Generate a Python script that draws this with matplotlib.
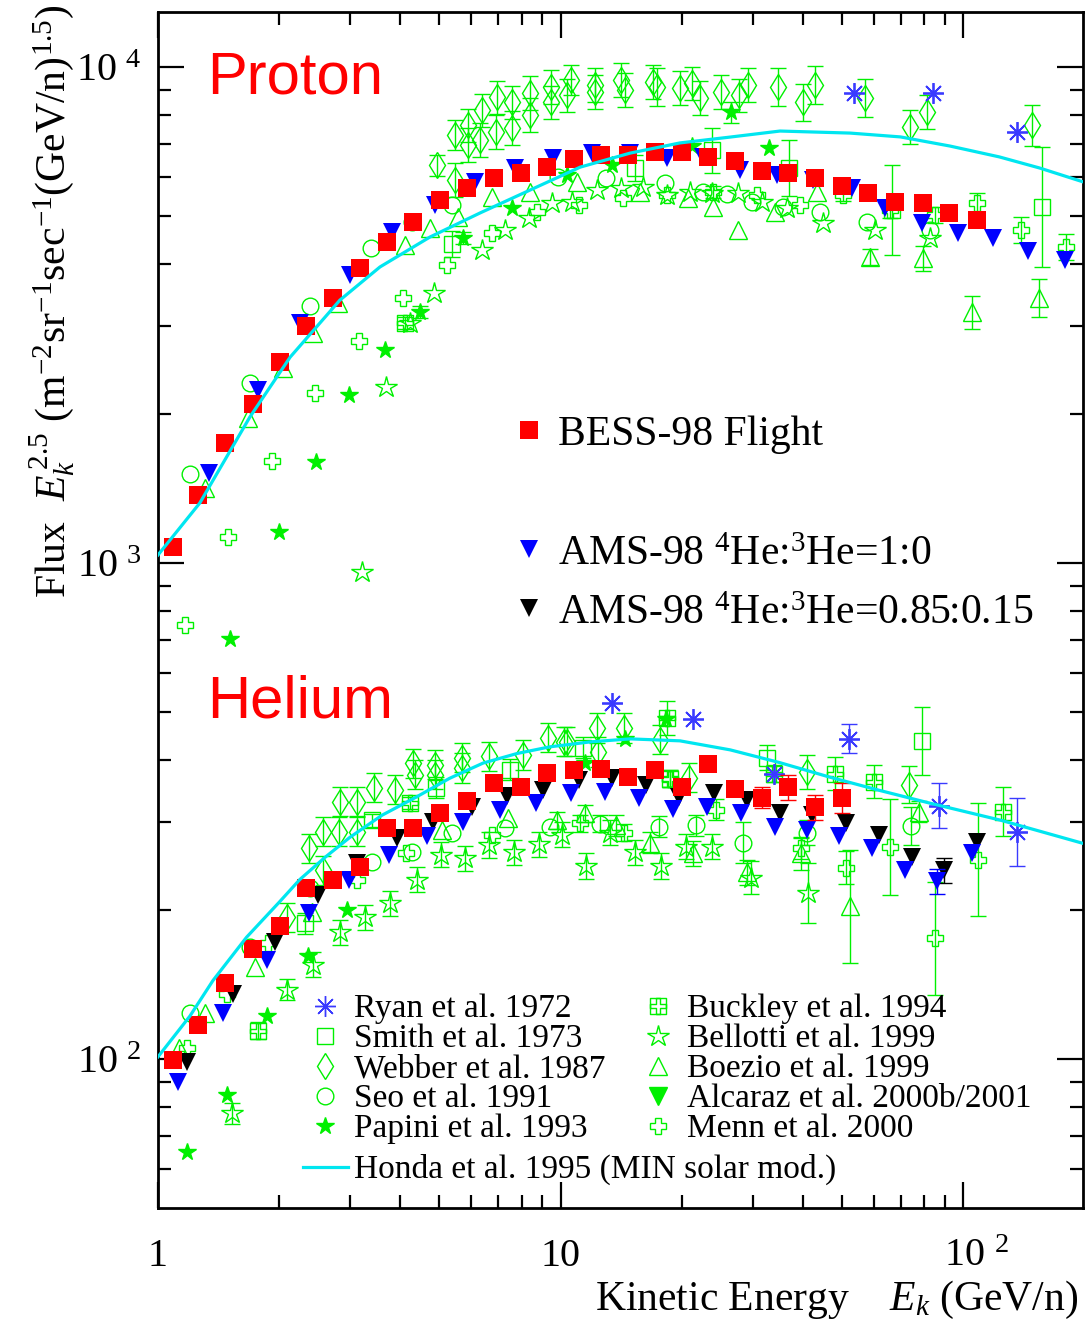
import numpy as np
import matplotlib
matplotlib.use('Agg')
import matplotlib.pyplot as plt
from matplotlib.path import Path
from matplotlib.ticker import FuncFormatter, LogLocator, NullFormatter

plt.rcParams['font.family'] = ['Liberation Serif', 'DejaVu Serif']
plt.rcParams['mathtext.fontset'] = 'custom'
plt.rcParams['mathtext.rm'] = 'Liberation Serif'
plt.rcParams['mathtext.it'] = 'Liberation Serif:italic'
plt.rcParams['mathtext.bf'] = 'Liberation Serif:bold'

# ---------------- proton data (E_k in GeV/n, flux*E^2.5) ----------------
bess_p_E = [1.09, 1.26, 1.47, 1.72, 2.01, 2.33, 2.72, 3.18, 3.71, 4.30, 5.02, 5.86, 6.83, 7.97, 9.26, 10.8,
            12.6, 14.7, 17.2, 20.0, 23.3, 27.1, 31.7, 36.7, 42.9, 50.0, 58.1, 67.8, 79.6, 92.3, 108]
bess_p_F = [1077, 1371, 1745, 2093, 2543, 3006, 3422, 3935, 4438, 4873, 5400, 5707, 5977, 6113, 6285, 6525,
            6649, 6649, 6744, 6744, 6590, 6463, 6166, 6113, 5977, 5755, 5571, 5342, 5317, 5082, 4916]

ams_p_E = [1.34, 1.77, 2.25, 3.00, 3.81, 4.88, 6.13, 7.71, 9.58, 12.0, 14.9, 18.4, 22.6, 27.9, 34.5, 42.4,
           53.0, 64.0, 79.1, 97.2, 119, 145, 179]
ams_p_F = [1517, 2234, 3049, 3811, 4649, 5270, 5866, 6259, 6557, 6710, 6710, 6557, 6590, 6197, 6055, 5918,
           5707, 5198, 4845, 4626, 4521, 4257, 4084]

honda_p_E = [1.0, 1.27, 1.69, 2.13, 2.83, 3.56, 4.74, 6.32, 8.40, 11.2, 14.9, 19.8, 26.4, 35.1, 52.4, 69.9,
             92.8, 123, 155, 199]
honda_p_F = [1038, 1321, 1967, 2601, 3388, 3953, 4543, 5082, 5649, 6285, 6707, 7031, 7225, 7430, 7360, 7230,
             6930, 6590, 6258, 5866]

webber_p_E = [4.93, 5.47, 5.47, 5.89, 5.89, 6.31, 6.38, 6.95, 6.92, 7.58, 7.58, 8.40, 8.40, 9.47, 9.47, 10.4,
              10.6, 12.2, 12.2, 14.1, 14.5, 17.0, 17.4, 19.8, 21.2, 22.2, 25.1, 27.8, 29.2, 34.7, 40.1, 42.9,
              57.1, 73.8, 81.4, 148]
webber_p_F = [6345, 7295, 5919, 7638, 6962, 7126, 8189, 8698, 7396, 8499, 7534, 8863, 8004, 9113, 8499, 8780,
              9415, 9198, 8904, 9415, 8987, 9328, 9113, 9073, 9283, 8660, 8904, 8780, 9198, 9113, 8499, 9198,
              8660, 7568, 8114, 7638]
webber_p_err = [0.05, 0.07, 0.08, 0.08, 0.08, 0.08, 0.08, 0.08, 0.08, 0.08, 0.08, 0.08, 0.08, 0.08, 0.08, 0.08,
                0.07, 0.08, 0.08, 0.08, 0.08, 0.08, 0.09, 0.08, 0.08, 0.08, 0.08, 0.08, 0.08, 0.09, 0.09, 0.09,
                0.09, 0.08, 0.08, 0.10]

ryan_p_E = [53.6, 84.2, 136]
ryan_p_F = [8863, 8863, 7396]

papini_p_E = [1.51, 2.0, 2.47, 2.98, 3.66, 4.48, 5.72, 7.58, 10.4, 13.4, 21.2, 26.5, 33.0]
papini_p_F = [703, 1155, 1598, 2182, 2688, 3206, 4521, 5196, 6058, 6345, 6930, 8114, 6866]
papini_p_err = [0, 0, 0, 0, 0, 0.03, 0.03, 0, 0, 0, 0, 0.05, 0]

menn_p_E = [1.17, 1.49, 1.92, 2.45, 3.16, 4.06, 5.22, 6.76, 8.74, 11.1, 14.3, 18.4, 23.9, 30.8, 39.4, 50.3,
            65.9, 85.2, 108, 139, 180]
menn_p_F = [750, 1128, 1606, 2202, 2803, 3422, 3990, 4627, 5102, 5270, 5444, 5520, 5598, 5520, 5270, 5520,
            5149, 5031, 5318, 4693, 4337]
menn_p_err = [0, 0, 0, 0, 0, 0, 0, 0, 0, 0, 0, 0, 0.03, 0, 0, 0.03, 0.04, 0.04, 0.05, 0.06, 0.06]

bellotti_p_E = [3.21, 3.69, 4.23, 4.85, 6.38, 7.28, 8.35, 9.53, 10.7, 12.3, 14.1, 16.0, 18.4, 21.0, 23.8, 27.6,
                31.7, 36.5, 44.9, 60.4, 82.8]
bellotti_p_F = [959, 2263, 3047, 3503, 4276, 4693, 4962, 5318, 5343, 5649, 5702, 5729, 5520, 5598, 5572, 5572,
                5343, 5196, 4847, 4693, 4521]

boezio_p_E = [1.31, 1.67, 2.04, 2.43, 2.80, 4.11, 4.74, 5.56, 6.76, 8.40, 11.0, 15.8, 20.7, 23.9, 27.6, 34.1,
              43.4, 58.7, 79.6, 105, 154]
boezio_p_F = [1417, 1960, 2473, 2909, 3344, 4377, 4737, 4985, 5470, 5598, 5863, 5598, 5444, 5220, 4693, 5102,
              5598, 4140, 4116, 3206, 3422]
boezio_p_err = [0, 0, 0, 0, 0, 0, 0, 0, 0, 0, 0, 0, 0, 0, 0, 0, 0, 0.04, 0.06, 0.08, 0.09]

seo_p_E = [1.20, 1.69, 2.39, 3.38, 4.28, 5.38, 9.86, 13.0, 18.2, 22.6, 25.9, 29.9, 35.7, 44.1, 57.7, 82.8]
seo_p_F = [1512, 2306, 3297, 4317, 4873, 5270, 6002, 5977, 5836, 5598, 5545, 5343, 5220, 5102, 4873, 4693]

smith_p_E = [5.38, 15.3, 23.8, 37.0, 66.6, 157]
smith_p_F = [4397, 6258, 6803, 6258, 5149, 5220]
smith_p_err = [0.06, 0.06, 0.11, 0.14, 0.23, 0.32]

buckley_p_E = [4.11]
buckley_p_F = [3047]
buckley_p_err = [0.03]

# ---------------- helium data ----------------
bess_he_E = [1.09, 1.26, 1.47, 1.72, 2.01, 2.33, 2.72, 3.18, 3.71, 4.30, 5.02, 5.86, 6.83, 7.97, 9.26, 10.8,
             12.6, 14.7, 17.2, 20.0, 23.3, 27.1, 31.7, 36.7, 42.9, 50.0]
bess_he_F = [99.5, 117, 142, 167, 185, 221, 230, 244, 292, 292, 313, 331, 360, 353, 377, 383,
             385, 371, 383, 353, 394, 350, 336, 353, 322, 336]
bess_he_err = [0, 0, 0, 0, 0, 0, 0, 0, 0, 0, 0, 0, 0, 0, 0, 0, 0, 0.02, 0, 0, 0, 0.03, 0.05, 0.06, 0.06, 0.07]

ams_he_E = [1.12, 1.45, 1.87, 2.37, 2.98, 3.75, 4.66, 5.73, 7.07, 8.70, 10.6, 12.9, 15.7, 19.0, 23.1, 28.1,
            34.1, 41.0, 49.2, 59.4, 71.8, 86.2, 105]
ams_he_F = [89.9, 124, 158, 197, 230, 258, 281, 301, 318, 328, 344, 346, 336, 319, 322, 313,
            294, 290, 281, 266, 240, 228, 260]
ams_he_err = [0, 0, 0, 0, 0, 0, 0, 0, 0, 0, 0, 0, 0, 0, 0, 0, 0, 0, 0, 0, 0, 0.06, 0]

ams3_he_E = [1.18, 1.54, 1.95, 2.50, 3.12, 3.93, 4.82, 6.03, 7.36, 9.05, 11.1, 13.4, 16.3, 19.7, 24.1, 29.1,
             35.1, 42.2, 51.2, 61.8, 74.7, 89.7, 108]
ams3_he_F = [98.6, 135, 172, 214, 248, 279, 301, 322, 339, 349, 365, 369, 357, 338, 344, 333,
             313, 311, 299, 283, 255, 240, 274]
ams3_he_err = [0, 0, 0, 0, 0, 0, 0, 0, 0, 0, 0, 0, 0, 0, 0, 0, 0, 0, 0, 0, 0, 0.06, 0]

honda_he_E = [1.0, 1.20, 1.37, 1.66, 2.0, 2.25, 2.6, 3.0, 3.6, 4.40, 5.3, 6.42, 7.8, 9.41, 11.9, 14.9, 19.8,
              26.4, 35.0, 46.7, 62.0, 82.7, 124, 199]
honda_he_F = [101, 122, 144, 176, 207, 230, 255, 280, 310, 338, 368, 395, 413, 426, 436, 442, 438,
              420, 396, 370, 348, 328, 303, 272]

webber_he_E = [2.09, 2.37, 2.57, 2.57, 2.83, 2.82, 3.12, 3.12, 3.44, 3.88, 4.30, 4.35, 4.88, 4.88, 5.69, 5.69,
               6.64, 8.07, 9.31, 10.2, 10.4, 12.3, 12.4, 14.4, 17.7, 20.9, 41.0, 73.4]
webber_he_F = [193, 266, 287, 240, 330, 287, 330, 287, 352, 349, 395, 374, 392, 374, 405, 386,
               408, 410, 444, 436, 436, 465, 416, 465, 440, 369, 379, 357]
webber_he_err = [0.07, 0.07, 0.07, 0.07, 0.07, 0.07, 0.07, 0.07, 0.07, 0.07, 0.07, 0.07, 0.07, 0.07, 0.07, 0.07,
                 0.07, 0.07, 0.07, 0.07, 0.07, 0.07, 0.07, 0.07, 0.07, 0.07, 0.08, 0.09]

ryan_he_E = [13.4, 21.3, 33.9, 52.1, 87.2, 136]
ryan_he_F = [522, 485, 376, 442, 324, 287]
ryan_he_err = [0, 0, 0, 0.07, 0.11, 0.17]

papini_he_E = [1.18, 1.48, 1.87, 2.36, 2.95, 11.5, 14.5, 18.3]
papini_he_F = [64.9, 84.6, 122, 161, 200, 395, 442, 485]

seo_he_E = [1.20, 1.69, 2.39, 3.40, 4.28, 5.38, 7.28, 9.42, 12.5, 17.6, 21.7, 28.4, 41.0, 74.3]
seo_he_F = [124, 168, 221, 250, 261, 286, 292, 294, 298, 294, 296, 273, 286, 295]
seo_he_err = [0, 0, 0, 0, 0, 0, 0, 0, 0.04, 0.05, 0.05, 0.10, 0.06, 0.09]

smith_he_E = [2.32, 3.40, 4.90, 7.49, 11.4, 32.6, 79.1]
smith_he_F = [188, 303, 352, 383, 424, 405, 438]
smith_he_err = [0.05, 0.03, 0.05, 0.05, 0.05, 0.06, 0.17]

buckley_he_E = [1.77, 4.23, 18.4, 18.7, 33.9, 48.1, 60.1, 126]
buckley_he_F = [114, 328, 487, 367, 376, 376, 362, 315]
buckley_he_err = [0.04, 0.03, 0.08, 0.04, 0.04, 0.08, 0.08, 0.12]

bellotti_he_E = [1.53, 2.09, 2.43, 2.83, 3.27, 3.77, 4.40, 5.05, 5.79, 6.64, 7.66, 8.84, 10.1, 11.6, 13.3, 15.3,
                 17.8, 20.5, 23.8, 29.7, 41.2]
bellotti_he_F = [77.8, 138, 155, 180, 193, 206, 230, 258, 254, 270, 261, 271, 283, 245, 286, 261,
                 245, 268, 268, 232, 216]
bellotti_he_err = [0.05, 0.05, 0.06, 0.06, 0.06, 0.06, 0.06, 0.06, 0.06, 0.06, 0.06, 0.06, 0.06, 0.06, 0.06, 0.06,
                   0.06, 0.06, 0.06, 0.08, 0.15]

boezio_he_E = [1.13, 1.31, 1.74, 2.41, 5.08, 7.40, 9.80, 11.5, 13.7, 16.7, 21.3, 29.1, 39.6, 52.4, 77.7]
boezio_he_F = [105, 124, 153, 198, 290, 306, 303, 313, 296, 273, 260, 238, 260, 203, 315]
boezio_he_err = [0, 0, 0, 0, 0, 0, 0.04, 0.04, 0.05, 0.05, 0.06, 0.06, 0.08, 0.30, 0.05]

menn_he_E = [1.18, 1.48, 1.88, 3.12, 4.13, 6.76, 11.2, 14.4, 18.7, 24.3, 39.6, 51.2, 65.9, 85.2, 109]
menn_he_F = [105, 135, 171, 230, 260, 283, 299, 286, 367, 318, 266, 243, 268, 175, 252]
menn_he_err = [0, 0, 0, 0, 0, 0, 0.04, 0.04, 0.04, 0.05, 0.05, 0.08, 0.25, 0.30, 0.30]

GREEN = '#00f000'
BLUE = '#0000ff'
RYAN = '#3a3aff'
CYAN = '#00e6f0'

# square with a cross cut out (Buckley et al. marker)
bk_verts = [(-1, -1), (1, -1), (1, 1), (-1, 1), (-1, -1),
            (-0.22, -1), (0.22, -1), (0.22, -0.22), (1, -0.22), (1, 0.22), (0.22, 0.22), (0.22, 1),
            (-0.22, 1), (-0.22, 0.22), (-1, 0.22), (-1, -0.22), (-0.22, -0.22), (-0.22, -1)]
bk_codes = [Path.MOVETO] + [Path.LINETO] * 3 + [Path.CLOSEPOLY] + [Path.MOVETO] + [Path.LINETO] * 11 + [Path.CLOSEPOLY]
BUCKLEY = Path(bk_verts, bk_codes)
RYAN_M = (8, 2, 0)


def draw(ax, E, F, err, marker, color, ms, filled=False, mew=1.0, z=3):
    E = np.asarray(E, float)
    F = np.asarray(F, float)
    if err is not None:
        r = np.asarray(err, float)
        m = r > 0
        if m.any():
            ax.errorbar(E[m], F[m], yerr=[F[m] - F[m] / (1 + r[m]), F[m] * r[m]], fmt='none',
                        ecolor=color, elinewidth=1.0, capsize=5.5, capthick=1.0, zorder=z)
    ax.plot(E, F, ls='none', marker=marker, ms=ms, mec=color,
            mfc=color if filled else 'none', mew=mew, zorder=z)
    if marker == RYAN_M:
        ax.plot(E, F, ls='none', marker='o', ms=3, mec=color, mfc=color, mew=0, zorder=z)


fig = plt.figure(figsize=(10.88, 13.23), dpi=100)
ax = fig.add_axes([0.1452, 0.0869, 0.8502, 0.9040])
ax.set_xscale('log')
ax.set_yscale('log')
ax.set_xlim(1, 198.6)
ax.set_ylim(50.06, 12910)

# green literature data (both species)
for E, F, err, mk, ms, fl in [
        (webber_p_E, webber_p_F, webber_p_err, 'd', 13, False),
        (webber_he_E, webber_he_F, webber_he_err, 'd', 13, False),
        (smith_p_E, smith_p_F, smith_p_err, 's', 12, False),
        (smith_he_E, smith_he_F, smith_he_err, 's', 12, False),
        (seo_p_E, seo_p_F, None, 'o', 12, False),
        (seo_he_E, seo_he_F, seo_he_err, 'o', 12, False),
        (papini_p_E, papini_p_F, papini_p_err, '*', 13, True),
        (papini_he_E, papini_he_F, None, '*', 13, True),
        (buckley_p_E, buckley_p_F, buckley_p_err, BUCKLEY, 11, False),
        (buckley_he_E, buckley_he_F, buckley_he_err, BUCKLEY, 11, False),
        (bellotti_p_E, bellotti_p_F, None, '*', 16, False),
        (bellotti_he_E, bellotti_he_F, bellotti_he_err, '*', 16, False),
        (boezio_p_E, boezio_p_F, boezio_p_err, '^', 13, False),
        (boezio_he_E, boezio_he_F, boezio_he_err, '^', 13, False),
        (menn_p_E, menn_p_F, menn_p_err, 'P', 12, False),
        (menn_he_E, menn_he_F, menn_he_err, 'P', 12, False)]:
    draw(ax, E, F, err, mk, GREEN, ms, filled=fl, mew=1.0)

draw(ax, ryan_p_E, ryan_p_F, None, RYAN_M, RYAN, 15, mew=1.3, z=4)
draw(ax, ryan_he_E, ryan_he_F, ryan_he_err, RYAN_M, RYAN, 15, mew=1.3, z=4)

# AMS and BESS
draw(ax, ams3_he_E, ams3_he_F, ams3_he_err, 'v', 'black', 13, filled=True, mew=0, z=5)
draw(ax, ams_p_E, ams_p_F, None, 'v', BLUE, 13, filled=True, mew=0, z=6)
draw(ax, ams_he_E, ams_he_F, ams_he_err, 'v', BLUE, 13, filled=True, mew=0, z=6)
draw(ax, bess_p_E, bess_p_F, None, 's', 'red', 13, filled=True, mew=0, z=7)
draw(ax, bess_he_E, bess_he_F, bess_he_err, 's', 'red', 13, filled=True, mew=0, z=7)

ax.plot(honda_p_E, honda_p_F, color=CYAN, lw=2.3, zorder=8)
ax.plot(honda_he_E, honda_he_F, color=CYAN, lw=2.3, zorder=8)

# axes styling
for s in ax.spines.values():
    s.set_linewidth(2.0)
ax.xaxis.set_major_locator(LogLocator(base=10, numticks=10))
ax.xaxis.set_minor_locator(LogLocator(base=10, subs=np.arange(2, 10), numticks=20))
ax.yaxis.set_major_locator(LogLocator(base=10, numticks=10))
ax.yaxis.set_minor_locator(LogLocator(base=10, subs=np.arange(2, 10), numticks=20))
ax.xaxis.set_minor_formatter(NullFormatter())
ax.yaxis.set_minor_formatter(NullFormatter())


def fmt(v, pos):
    n = int(round(np.log10(v)))
    if n == 0:
        return '1'
    if n == 1:
        return '10'
    return r'$\ \ \;$10$^{\,\;%d}$' % n


def fmt_y(v, pos):
    n = int(round(np.log10(v)))
    return r'10$^{\,\;%d}$' % n


ax.xaxis.set_major_formatter(FuncFormatter(fmt))
ax.yaxis.set_major_formatter(FuncFormatter(fmt_y))
ax.tick_params(which='both', direction='in', top=True, right=True, labelsize=29, width=1.6)
ax.tick_params(which='major', length=19)
ax.tick_params(which='minor', length=9.5)
ax.tick_params(axis='y', which='major', pad=12)
ax.tick_params(axis='x', which='major', pad=42)
fig.canvas.draw()
plt.setp(ax.get_xticklabels(), va='baseline')

# axis titles
fig.text(0.048, 0.772, r'Flux  $E_k^{\,2.5}$ (m$^{-2}$sr$^{-1}$sec$^{-1}$(GeV/n)$^{1.5}$)',
         rotation=90, ha='center', va='center', fontsize=30)
fig.text(0.769, 0.0174, r'Kinetic Energy    $E_k$ (GeV/n)', ha='center', va='center', fontsize=30)

ax.text(0.053, 0.9323, 'Proton', transform=ax.transAxes, fontsize=43, color='red',
        family='Liberation Sans', va='baseline')
ax.text(0.053, 0.4105, 'Helium', transform=ax.transAxes, fontsize=43, color='red',
        family='Liberation Sans', va='baseline')

# legend for BESS / AMS
big = [('s', 'red', 'BESS-98 Flight', 0.6505, 0.638),
       ('v', BLUE, r'AMS-98 $^4$He:$^3$He=1:0', 0.551, 0.5376),
       ('v', 'black', r'AMS-98 $^4$He:$^3$He=0.85:0.15', 0.5017, 0.4883)]
for mk, c, lab, ym, yt in big:
    ax.plot([0.401], [ym], marker=mk, ms=13, color=c, mew=0, transform=ax.transAxes, zorder=9)
    ax.text(0.4324, yt, lab, transform=ax.transAxes, fontsize=30, va='baseline')

# legend for literature data
rows_m = [0.1689, 0.1438, 0.1187, 0.0936, 0.0686]
rows_t = [0.1597, 0.1346, 0.1095, 0.0844, 0.0594]
col1 = [(RYAN_M, RYAN, False, 15, 'Ryan et al. 1972'),
        ('s', GREEN, False, 12, 'Smith et al. 1973'),
        ('d', GREEN, False, 13, 'Webber et al. 1987'),
        ('o', GREEN, False, 12, 'Seo et al. 1991'),
        ('*', GREEN, True, 13, 'Papini et al. 1993')]
col2 = [(BUCKLEY, GREEN, False, 11, 'Buckley et al. 1994'),
        ('*', GREEN, False, 16, 'Bellotti et al. 1999'),
        ('^', GREEN, False, 13, 'Boezio et al. 1999'),
        ('v', GREEN, True, 13, 'Alcaraz et al. 2000b/2001'),
        ('P', GREEN, False, 12, 'Menn et al. 2000')]
for xm, xt, col in [(0.1805, 0.2119, col1), (0.5405, 0.5719, col2)]:
    for (mk, c, fl, ms, lab), ym, yt in zip(col, rows_m, rows_t):
        ax.plot([xm], [ym], marker=mk, ms=ms, mec=c, mfc=c if fl else 'none', mew=1.0,
                transform=ax.transAxes, zorder=9)
        if mk == RYAN_M:
            ax.plot([xm], [ym], marker='o', ms=3, color=c, mew=0, transform=ax.transAxes, zorder=9)
        ax.text(xt, yt, lab, transform=ax.transAxes, fontsize=24, va='baseline')
ax.plot([0.157, 0.205], [0.0343, 0.0343], color=CYAN, lw=2.3, transform=ax.transAxes)
ax.text(0.2119, 0.0251, 'Honda et al. 1995 (MIN solar mod.)', transform=ax.transAxes,
        fontsize=24, va='baseline')

fig.savefig('out.png', dpi=100)
